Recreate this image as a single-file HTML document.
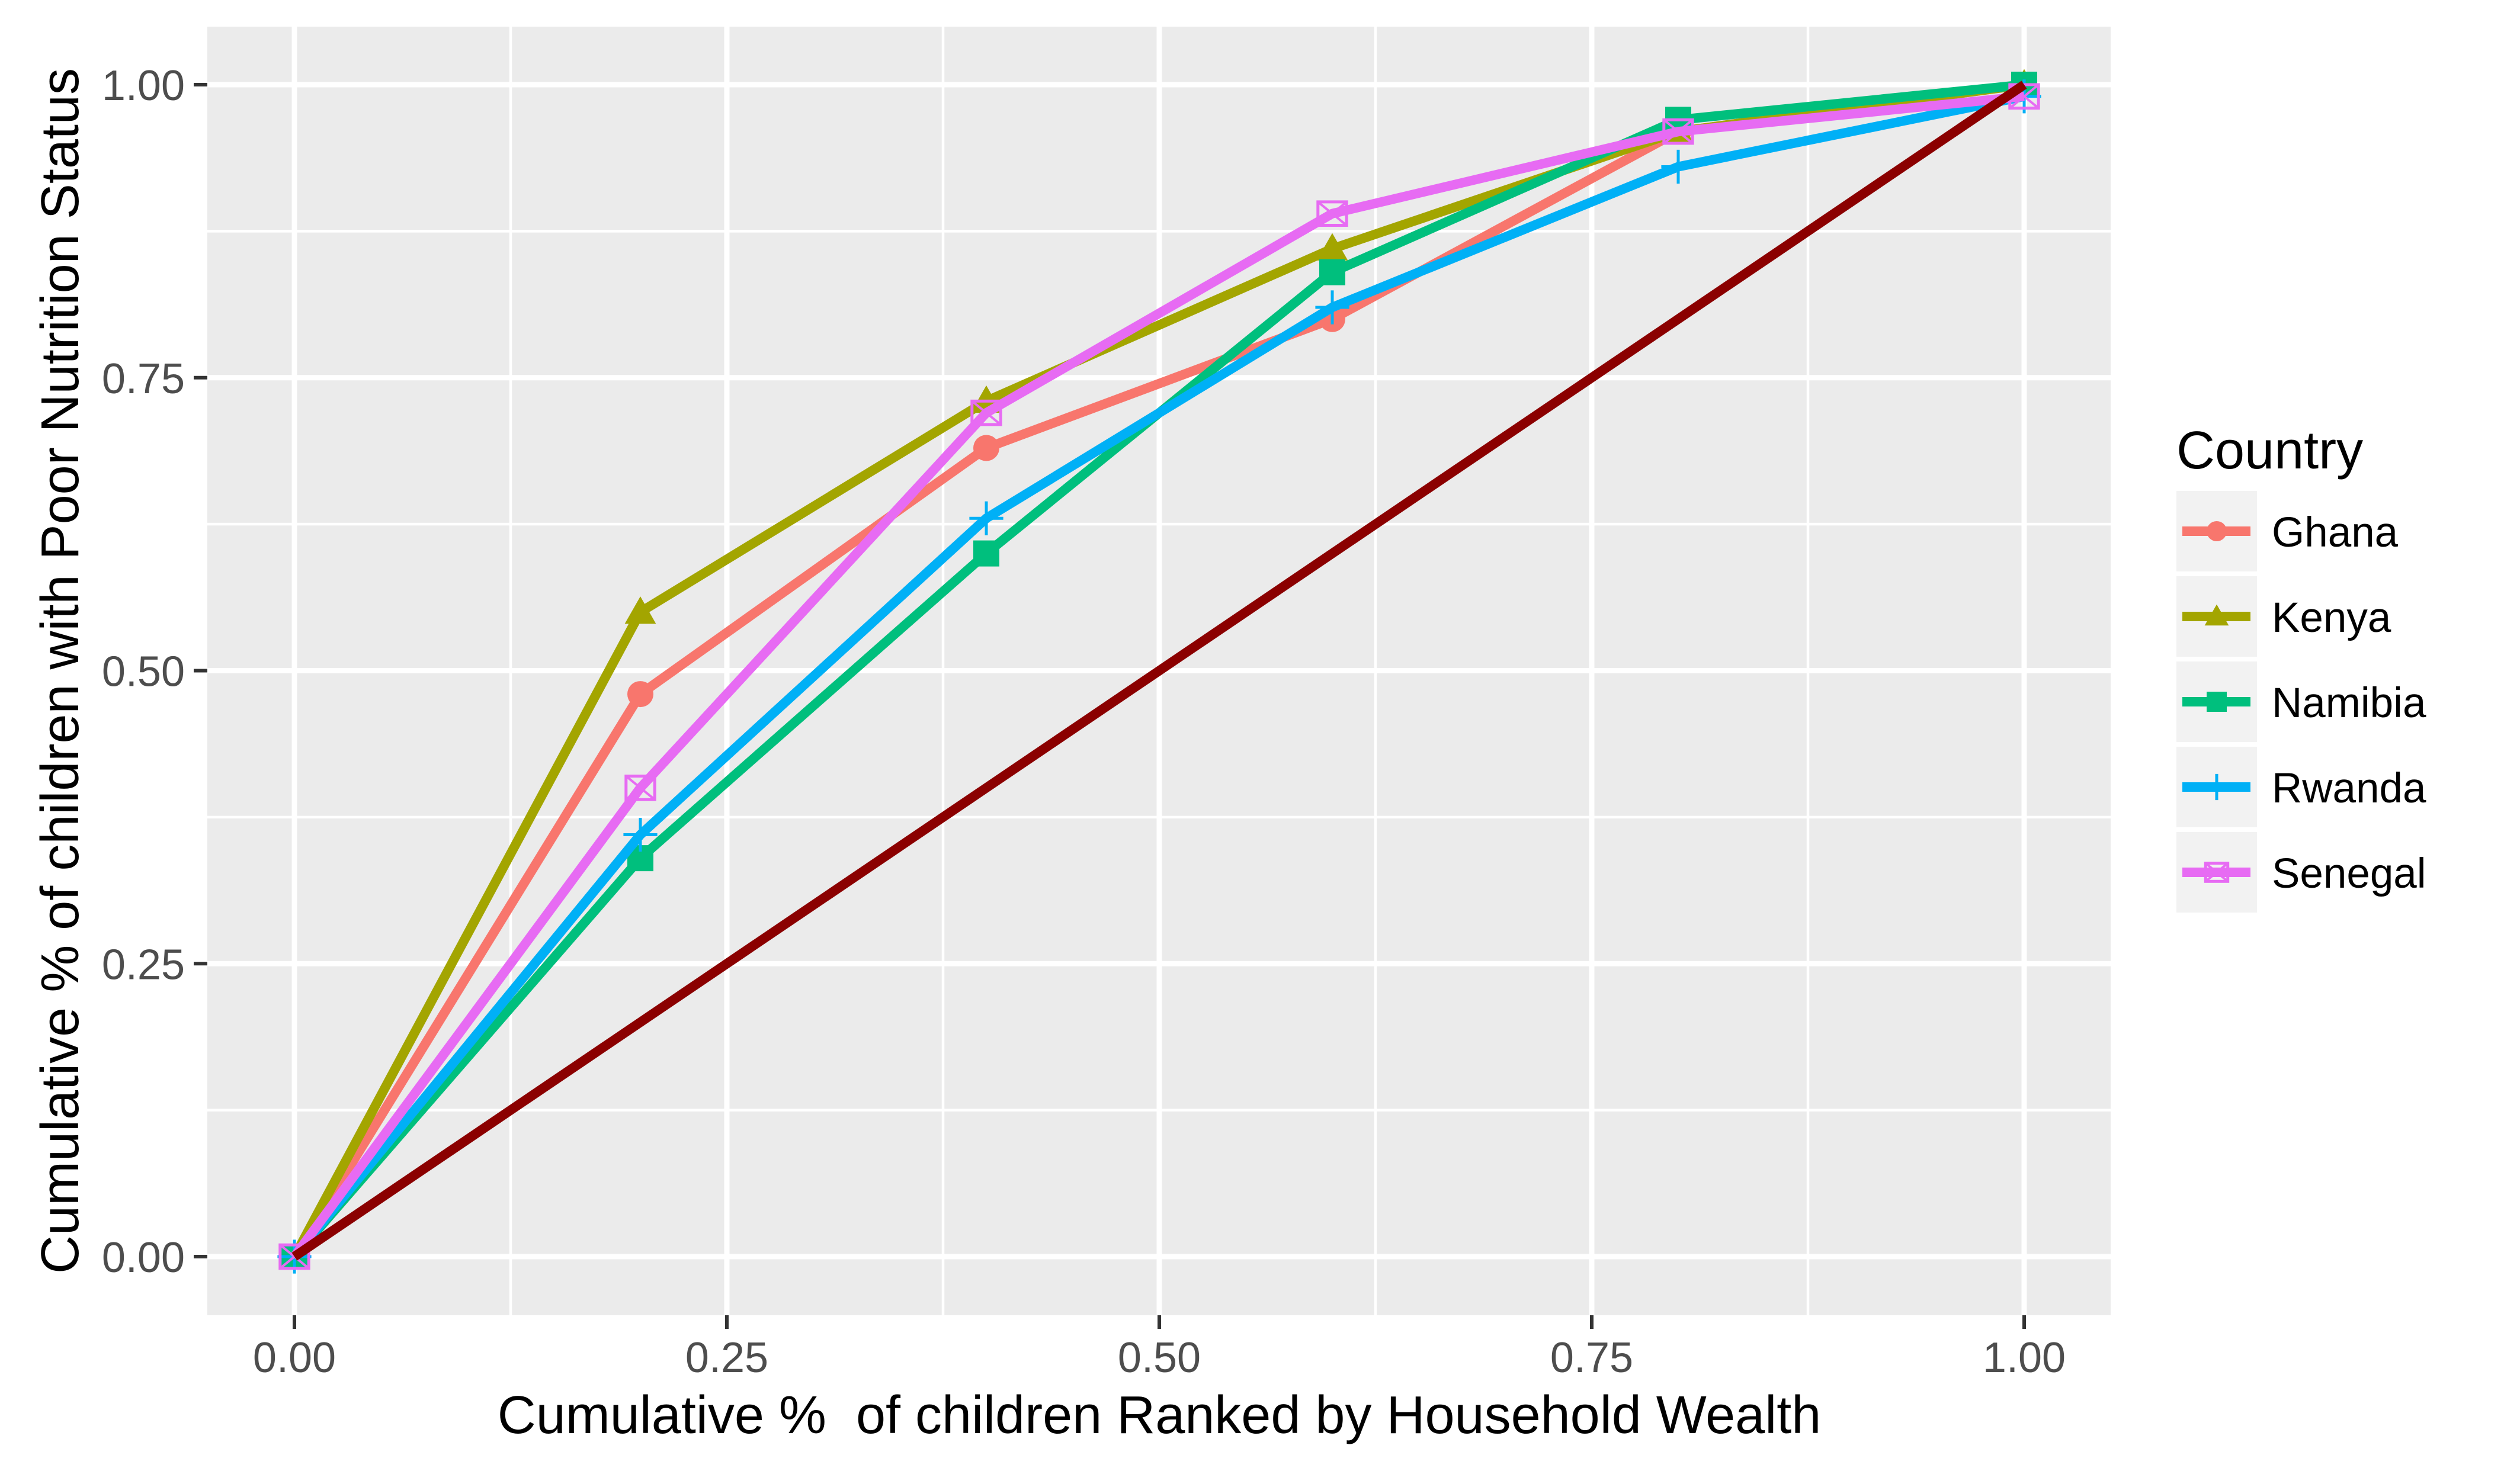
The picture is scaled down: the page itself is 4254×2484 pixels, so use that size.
<!DOCTYPE html>
<html><head><meta charset="utf-8"><style>
html,body{margin:0;padding:0;background:#fff;}
svg{display:block;font-family:"Liberation Sans",Arial,sans-serif;}
</style></head><body>
<svg id="chart" width="4254" height="2484" viewBox="0 0 4254 2484" xmlns="http://www.w3.org/2000/svg">
<rect x="350" y="45" width="3213" height="2176" fill="#ebebeb"/>
<g id="grid"></g>
<g id="series"></g>
<g id="axes"></g>
<text x="1957" y="2420" font-size="90" text-anchor="middle" fill="#000">Cumulative %&#160; of children Ranked by Household Wealth</text>
<text transform="translate(132,1133) rotate(-90)" font-size="90" text-anchor="middle" fill="#000">Cumulative % of children with Poor Nutrition Status</text>
<g id="legend">
<text x="3674" y="791" font-size="90" fill="#000">Country</text>
</g>
</svg>
<script>
const xs = [0, 0.2, 0.4, 0.6, 0.8, 1.0];
const countries = ["Ghana","Kenya","Namibia","Rwanda","Senegal"];
const ghana = [0, 0.48, 0.69, 0.80, 0.96, 1.00];
const kenya = [0, 0.55, 0.73, 0.86, 0.96, 1.00];
const namibia = [0, 0.34, 0.60, 0.84, 0.97, 1.00];
const rwanda = [0, 0.36, 0.63, 0.81, 0.93, 0.99];
const senegal = [0, 0.40, 0.72, 0.89, 0.96, 0.99];
const equality = [0, 1];
const xTicks = ["0.00","0.25","0.50","0.75","1.00"];
const yTicks = ["0.00","0.25","0.50","0.75","1.00"];

const NS="http://www.w3.org/2000/svg";
const X0=497, XS=2920, Y0=2122, YS=1979;
const sx=v=>X0+v*XS, sy=v=>Y0-v*YS;
function mk(tag,attrs,parent){const e=document.createElementNS(NS,tag);for(const k in attrs)e.setAttribute(k,attrs[k]);parent.appendChild(e);return e;}
const grid=document.getElementById('grid'), axes=document.getElementById('axes'), ser=document.getElementById('series'), leg=document.getElementById('legend');
for(let i=0;i<4;i++){
  const v=(i+0.5)*0.25;
  let l=mk('line',{x1:sx(v),x2:sx(v),y1:45,y2:2221,stroke:'#fff','stroke-width':4.5},grid);
  
  
  l=mk('line',{x1:350,x2:3563,y1:sy(v),y2:sy(v),stroke:'#fff','stroke-width':4.5},grid);
  
  
}
xTicks.forEach(t=>{
  const v=parseFloat(t);
  let l=mk('line',{x1:sx(v),x2:sx(v),y1:45,y2:2221,stroke:'#fff','stroke-width':9},grid);
  
  
  l=mk('line',{x1:sx(v),x2:sx(v),y1:2221,y2:2244,stroke:'#333','stroke-width':6},axes);
  
  
  const tx=mk('text',{x:sx(v),y:2317,'font-size':72,'text-anchor':'middle',fill:'#4d4d4d'},axes);
  tx.textContent=t;
  
  
});
yTicks.forEach(t=>{
  const v=parseFloat(t);
  let l=mk('line',{x1:350,x2:3563,y1:sy(v),y2:sy(v),stroke:'#fff','stroke-width':9},grid);
  
  
  l=mk('line',{x1:327,x2:350,y1:sy(v),y2:sy(v),stroke:'#333','stroke-width':6},axes);
  
  
  const tx=mk('text',{x:312,y:sy(v)+26,'font-size':72,'text-anchor':'end',fill:'#4d4d4d'},axes);
  tx.textContent=t;
  
  
});
const colors=["#F8766D","#A3A500","#00BF7D","#00B0F6","#E76BF3"];
const shapes=["circle","triangle","square","plus","boxx"];
const data=[ghana,kenya,namibia,rwanda,senegal];
function marker(shape,cx,cy,c,parent,s){
  let g=mk('g',{},parent);
  if(shape==='circle') mk('circle',{cx,cy,r:s*0.5,fill:c},g);
  else if(shape==='triangle') mk('polygon',{points:`${cx},${cy-s*0.6} ${cx-s*0.6},${cy+s*0.45} ${cx+s*0.6},${cy+s*0.45}`,fill:c},g);
  else if(shape==='square') mk('rect',{x:cx-s*0.5,y:cy-s*0.5,width:s,height:s,fill:c},g);
  else if(shape==='plus'){mk('line',{x1:cx-s*0.65,x2:cx+s*0.65,y1:cy,y2:cy,stroke:c,'stroke-width':5},g);mk('line',{x1:cx,x2:cx,y1:cy-s*0.65,y2:cy+s*0.65,stroke:c,'stroke-width':5},g);}
  else {mk('rect',{x:cx-s*0.55,y:cy-s*0.45,width:s*1.1,height:s*0.9,fill:'none',stroke:c,'stroke-width':5},g);
    mk('path',{d:`M${cx-s*0.55},${cy-s*0.45}L${cx+s*0.55},${cy+s*0.45}M${cx+s*0.55},${cy-s*0.45}L${cx-s*0.55},${cy+s*0.45}`,stroke:c,'stroke-width':4,fill:'none'},g);}
  return g;
}
data.forEach((arr,i)=>{
  const g=mk('g',{},ser);
  
  
  const p=mk('polyline',{points:arr.map((v,j)=>sx(xs[j])+','+sy(v)).join(' '),fill:'none',stroke:colors[i],'stroke-width':16,'stroke-linejoin':'round'},g);
  
  
  arr.forEach((v,j)=>{
    const m=marker(shapes[i],sx(xs[j]),sy(v),colors[i],g,44);
    
    
  });
  const ky=829+i*144;
  const lg=mk('g',{},leg);
  
  
  mk('rect',{x:3674,y:ky,width:136,height:136,fill:'#f2f2f2'},lg);
  mk('line',{x1:3684,x2:3799,y1:ky+68,y2:ky+68,stroke:colors[i],'stroke-width':16},lg);
  marker(shapes[i],3742,ky+68,colors[i],lg,34);
  const t=mk('text',{x:3835,y:ky+94,'font-size':71,fill:'#000'},lg);
  t.textContent=countries[i];
});
const d=mk('line',{x1:sx(equality[0]),y1:sy(equality[0]),x2:sx(equality[1]),y2:sy(equality[1]),stroke:'#8B0000','stroke-width':16},ser);


</script>
</body></html>
